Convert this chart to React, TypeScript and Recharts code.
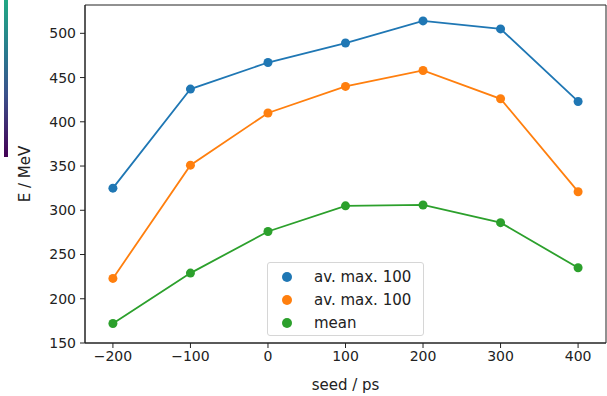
import React from 'react';
import { LineChart, Line, XAxis, YAxis, ReferenceArea } from 'recharts';

const seeds = [-200, -100, 0, 100, 200, 300, 400];
const avMaxA = [325, 437, 467, 489, 514, 505, 423];
const avMaxB = [223, 351, 410, 440, 458, 426, 321];
const meanE = [172, 229, 276, 305, 306, 286, 235];
const xTicks = [-200, -100, 0, 100, 200, 300, 400];
const yTicks = [150, 200, 250, 300, 350, 400, 450, 500];
const seriesNames = ['av. max. 100', 'av. max. 100', 'mean'];
const seriesColors = ['#1f77b4', '#ff7f0e', '#2ca02c'];

const data = seeds.map((s, i) => ({ seed: s, a: avMaxA[i], b: avMaxB[i], m: meanE[i] }));

const FONT = 'DejaVu Sans, sans-serif';
const fmt = (v: number) => String(v).replace('-', '\u2212');

const LegendBox = () => (
  <div
    style={{
      position: 'absolute',
      left: 267,
      top: 262,
      width: 157,
      height: 74,
      border: '1px solid #d6d6d6',
      borderRadius: 3,
      background: 'rgba(255,255,255,0.8)',
      fontFamily: FONT,
      fontSize: 15,
      color: '#222',
      boxSizing: 'border-box',
      paddingTop: 2,
    }}
  >
    {seriesNames.map((n, i) => (
      <div key={i} style={{ display: 'flex', alignItems: 'center', height: 23 }}>
        <svg width={30} height={12}>
          <circle cx={19} cy={6} r={5} fill={seriesColors[i]} />
        </svg>
        <span style={{ marginLeft: 16 }}>{n}</span>
      </div>
    ))}
  </div>
);

export default function App() {
  return (
    <div style={{ position: 'fixed', left: 0, top: 0, width: 607, height: 396, background: '#fff' }}>
      <div
        style={{
          position: 'absolute',
          left: 4,
          top: 0,
          width: 4,
          height: 157,
          background: 'linear-gradient(to bottom, #22a884 0%, #2a788e 35%, #3b528b 60%, #440154 100%)',
        }}
      />
      <LineChart width={607} height={396} data={data} margin={{ top: 5, right: 1, left: 0, bottom: 0 }}>
        <XAxis
          dataKey="seed"
          type="number"
          domain={[-236, 436]}
          ticks={xTicks}
          tickFormatter={fmt}
          allowDataOverflow
          height={53}
          tickSize={5}
          tickMargin={3}
          stroke="#222"
          tick={{ fill: '#222', fontSize: 14, fontFamily: FONT }}
          label={{ value: 'seed / ps', position: 'insideBottom', offset: 6, fill: '#222', fontSize: 15, fontFamily: FONT }}
        />
        <YAxis
          type="number"
          domain={[150, 532]}
          ticks={yTicks}
          allowDataOverflow
          width={85}
          tickSize={5}
          tickMargin={4}
          stroke="#222"
          tick={{ fill: '#222', fontSize: 14, fontFamily: FONT }}
          label={{ value: 'E / MeV', angle: -90, position: 'insideLeft', offset: 25, fill: '#222', fontSize: 15, fontFamily: FONT, style: { textAnchor: 'middle' } }}
        />
        <ReferenceArea x1={-236} x2={436} y1={150} y2={532} fill="none" stroke="#222" strokeWidth={1} ifOverflow="visible" />
        <Line dataKey="a" name={seriesNames[0]} stroke={seriesColors[0]} strokeWidth={1.8} dot={{ r: 4.5, fill: seriesColors[0], stroke: 'none' }} isAnimationActive={false} />
        <Line dataKey="b" name={seriesNames[1]} stroke={seriesColors[1]} strokeWidth={1.8} dot={{ r: 4.5, fill: seriesColors[1], stroke: 'none' }} isAnimationActive={false} />
        <Line dataKey="m" name={seriesNames[2]} stroke={seriesColors[2]} strokeWidth={1.8} dot={{ r: 4.5, fill: seriesColors[2], stroke: 'none' }} isAnimationActive={false} />
      </LineChart>
      <LegendBox />
    </div>
  );
}
